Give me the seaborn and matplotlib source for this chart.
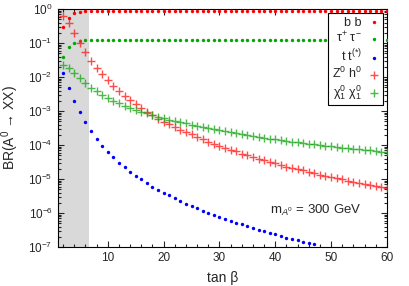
import numpy as np
import pandas as pd
import matplotlib
matplotlib.use("Agg")
import matplotlib.pyplot as plt
import seaborn as sns

# ---------------- data ----------------
tanb = list(range(2, 61))

br_bb = [0.29, 0.56, 0.76, 0.84, 0.87] + [0.88] * 54
br_tautau = [0.038, 0.075, 0.10, 0.112] + [0.12] * 55
tanb_tt = list(range(2, 48))
br_tt = [1.3e-2, 4.8e-3, 2.0e-3, 9.1e-4, 4.7e-4, 2.6e-4, 1.5e-4, 9.5e-5, 6.3e-5,
         4.4e-5, 3.0e-5, 2.2e-5, 1.6e-5, 1.26e-5, 9.8e-6, 7.6e-6, 6.0e-6, 4.9e-6,
         4.0e-6, 3.3e-6, 2.75e-6, 2.3e-6, 1.9e-6, 1.62e-6, 1.38e-6, 1.17e-6,
         1.02e-6, 8.7e-7, 7.6e-7, 6.6e-7, 5.9e-7, 5.1e-7, 4.6e-7, 4.1e-7, 3.6e-7,
         3.2e-7, 2.9e-7, 2.6e-7, 2.35e-7, 2.14e-7, 1.9e-7, 1.74e-7, 1.58e-7,
         1.45e-7, 1.32e-7, 1.2e-7]
br_zh = [0.63, 0.40, 0.20, 0.098, 0.054, 0.030, 0.0186, 0.0123, 7.9e-3, 5.5e-3,
         3.9e-3, 2.8e-3, 2.1e-3, 1.58e-3, 1.2e-3, 9.3e-4, 7.4e-4, 5.9e-4, 4.9e-4,
         4.1e-4, 3.4e-4, 2.8e-4, 2.4e-4, 2.04e-4, 1.74e-4, 1.48e-4, 1.26e-4,
         1.10e-4, 9.5e-5, 8.3e-5, 7.2e-5, 6.5e-5, 5.6e-5, 5.0e-5, 4.5e-5, 4.0e-5,
         3.55e-5, 3.2e-5, 2.9e-5, 2.6e-5, 2.3e-5, 2.1e-5, 1.95e-5, 1.78e-5,
         1.62e-5, 1.48e-5, 1.35e-5, 1.23e-5, 1.15e-5, 1.05e-5, 9.8e-6, 8.9e-6,
         8.3e-6, 7.8e-6, 7.1e-6, 6.6e-6, 6.2e-6, 5.8e-6, 5.4e-6]
br_chichi = [2.3e-2, 1.82e-2, 1.35e-2, 9.3e-3, 6.6e-3, 4.9e-3, 3.8e-3, 3.0e-3,
             2.4e-3, 2.0e-3, 1.7e-3, 1.45e-3, 1.23e-3, 1.07e-3, 9.5e-4, 8.5e-4,
             7.6e-4, 6.8e-4, 6.2e-4, 5.6e-4, 5.1e-4, 4.7e-4, 4.4e-4, 4.0e-4,
             3.7e-4, 3.4e-4, 3.2e-4, 2.9e-4, 2.7e-4, 2.5e-4, 2.35e-4, 2.2e-4,
             2.1e-4, 1.95e-4, 1.82e-4, 1.74e-4, 1.62e-4, 1.55e-4, 1.48e-4,
             1.38e-4, 1.32e-4, 1.26e-4, 1.20e-4, 1.15e-4, 1.10e-4, 1.05e-4,
             1.00e-4, 9.5e-5, 9.1e-5, 8.7e-5, 8.3e-5, 7.9e-5, 7.8e-5, 7.4e-5,
             7.1e-5, 6.9e-5, 6.6e-5, 6.3e-5, 6.2e-5]

labels = ["b b", "τ$^{+}$ τ$^{-}$", "t t$^{(*)}$", "Z$^{0}$ h$^{0}$",
          "χ$_{1}^{0}$ χ$_{1}^{0}$"]
excluded_region = [1.0, 6.7]
xticks = [10, 20, 30, 40, 50, 60]

# ---------------- style ----------------
sns.set_style("ticks")
plt.rcParams["font.family"] = ["Liberation Sans", "DejaVu Sans"]
plt.rcParams["mathtext.fontset"] = "custom"
plt.rcParams["mathtext.rm"] = "Liberation Sans"
plt.rcParams["mathtext.it"] = "Liberation Sans:italic"
plt.rcParams["mathtext.bf"] = "Liberation Sans:bold"

fig = plt.figure(figsize=(4.09, 2.86), dpi=100)
ax = fig.add_axes([0.1406, 0.1364, 0.8054, 0.8321])

ax.axvspan(*excluded_region, color="#d9d9d9", lw=0, zorder=0)

df_bb = pd.DataFrame({"x": tanb, "y": br_bb})
df_tau = pd.DataFrame({"x": tanb, "y": br_tautau})
df_tt = pd.DataFrame({"x": tanb_tt, "y": br_tt})
df_zh = pd.DataFrame({"x": tanb, "y": br_zh})
df_chi = pd.DataFrame({"x": tanb, "y": br_chichi})

dot_kw = dict(marker="o", s=6, linewidth=0, zorder=3)
cross_kw = dict(marker="+", s=40, linewidth=1.0, zorder=3, alpha=0.8)
sns.scatterplot(data=df_bb, x="x", y="y", ax=ax, color="#ff0000", label=labels[0], **dot_kw)
sns.scatterplot(data=df_tau, x="x", y="y", ax=ax, color="#00a800", label=labels[1], **dot_kw)
sns.scatterplot(data=df_tt, x="x", y="y", ax=ax, color="#0000ff", label=labels[2], **dot_kw)
sns.scatterplot(data=df_zh, x="x", y="y", ax=ax, color="#ff2020", label=labels[3], **cross_kw)
sns.scatterplot(data=df_chi, x="x", y="y", ax=ax, color="#20a820", label=labels[4], **cross_kw)

ax.set_yscale("log")
ax.set_xlim(1, 60)
ax.set_ylim(1e-7, 1)
ax.set_xticks(xticks)
ax.set_xticks(np.arange(2, 61, 2), minor=True)
ax.tick_params(which="both", direction="in", top=True, right=True, labelsize=8.5, width=0.8)
ax.tick_params(which="major", length=4)
ax.tick_params(which="minor", length=2)
ax.yaxis.set_minor_locator(matplotlib.ticker.LogLocator(base=10, subs=np.arange(2, 10), numticks=20))
for s in ax.spines.values():
    s.set_linewidth(0.8)
    s.set_color("black")

ax.set_xlabel("tan β", fontsize=10, labelpad=5)
ax.set_ylabel("BR(A$^{0}$ → XX)", fontsize=10, labelpad=5)

ax.text(39, 10 ** -5.93, "m$_{A^{0}}$ = 300 GeV", fontsize=9.5, va="center", ha="left")

leg = ax.legend(loc="upper right", markerfirst=False, frameon=True, fancybox=False,
                edgecolor="black", framealpha=1, fontsize=9, handlelength=0.8,
                handletextpad=0.6, borderaxespad=0.3, labelspacing=0.15,
                borderpad=0.3)
leg.get_frame().set_linewidth(0.8)

fig.savefig("out.png", dpi=100)
